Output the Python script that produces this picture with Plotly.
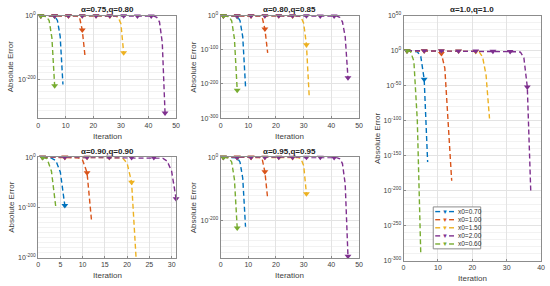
import plotly.graph_objects as go

W, H = 550, 286

# series labels and colours (MATLAB default order)
labels = ["x0=0.70", "x0=1.00", "x0=1.50", "x0=2.00", "x0=0.60"]
colors = ["#0072BD", "#D95319", "#EDB120", "#7E2F8E", "#77AC30"]

titles = ["α=0.75,q=0.80", "α=0.80,q=0.85", "α=0.90,q=0.90",
          "α=0.95,q=0.95", "α=1.0,q=1.0"]

# absolute error per iteration (iteration 1, 2, ...)
# panel 1: alpha=0.75, q=0.80
p1_070 = [0.9, 0.75, 0.55, 0.35, 0.12, 1e-2, 1e-15, 1e-65, 1e-217]
p1_100 = [0.95, 0.9, 0.85, 0.8, 0.74, 0.68, 0.62, 0.55, 0.48, 0.41, 0.33, 0.25,
          0.16, 0.07, 1e-5, 1e-45, 1e-127]
p1_150 = [0.97, 0.94, 0.91, 0.88, 0.85, 0.82, 0.79, 0.76, 0.73, 0.7, 0.67, 0.64,
          0.61, 0.58, 0.55, 0.52, 0.49, 0.46, 0.43, 0.4, 0.37, 0.34, 0.31, 0.27,
          0.23, 0.18, 0.12, 0.05, 1e-5, 1e-25, 1e-117]
p1_200 = [0.98, 0.95, 0.93, 0.9, 0.88, 0.86, 0.83, 0.81, 0.79, 0.77, 0.75, 0.73,
          0.71, 0.69, 0.67, 0.65, 0.63, 0.61, 0.6, 0.58, 0.56, 0.54, 0.52, 0.5,
          0.48, 0.46, 0.44, 0.42, 0.4, 0.38, 0.36, 0.34, 0.32, 0.3, 0.28, 0.26,
          0.24, 0.21, 0.18, 0.15, 0.11, 0.06, 1e-5, 1e-20, 1e-85, 1e-307]
p1_060 = [0.5, 0.1, 1e-3, 1e-15, 1e-70, 1e-221]

# panel 2: alpha=0.80, q=0.85
p2_070 = [0.9, 0.75, 0.55, 0.35, 0.12, 1e-2, 1e-14, 1e-62, 1e-207]
p2_100 = [0.95, 0.9, 0.85, 0.8, 0.74, 0.68, 0.62, 0.55, 0.48, 0.41, 0.33, 0.25,
          0.16, 0.07, 1e-4, 1e-39, 1e-109]
p2_150 = [0.97, 0.94, 0.91, 0.88, 0.85, 0.82, 0.79, 0.76, 0.73, 0.7, 0.67, 0.64,
          0.61, 0.58, 0.55, 0.52, 0.49, 0.46, 0.43, 0.4, 0.37, 0.34, 0.31, 0.27,
          0.23, 0.18, 0.12, 0.05, 1e-3, 1e-22, 1e-85, 1e-237]
p2_200 = [0.98, 0.95, 0.93, 0.9, 0.88, 0.86, 0.83, 0.81, 0.79, 0.77, 0.75, 0.73,
          0.71, 0.69, 0.67, 0.65, 0.63, 0.61, 0.6, 0.58, 0.56, 0.54, 0.52, 0.5,
          0.48, 0.46, 0.44, 0.42, 0.4, 0.38, 0.36, 0.34, 0.32, 0.3, 0.28, 0.26,
          0.24, 0.21, 0.18, 0.15, 0.11, 0.06, 1e-5, 1e-18, 1e-62, 1e-182]
p2_060 = [0.5, 0.1, 1e-3, 1e-15, 1e-68, 1e-218]

# panel 3: alpha=0.90, q=0.90
p3_070 = [0.7, 0.3, 1e-2, 1e-7, 1e-30, 1e-96]
p3_100 = [0.95, 0.88, 0.8, 0.7, 0.6, 0.48, 0.35, 0.2, 0.05, 1e-6, 1e-31, 1e-126]
p3_150 = [0.96, 0.92, 0.88, 0.84, 0.8, 0.76, 0.72, 0.68, 0.63, 0.58, 0.53, 0.48,
          0.42, 0.36, 0.29, 0.22, 0.14, 0.06, 1e-2, 1e-12, 1e-50, 1e-199]
p3_200 = [0.98, 0.95, 0.92, 0.89, 0.86, 0.83, 0.8, 0.77, 0.74, 0.71, 0.68, 0.65,
          0.62, 0.59, 0.56, 0.53, 0.5, 0.47, 0.44, 0.41, 0.37, 0.33, 0.29, 0.24,
          0.19, 0.13, 0.07, 1e-2, 1e-8, 1e-28, 1e-83]
p3_060 = [0.3, 1e-3, 1e-28, 1e-101]

# panel 4: alpha=0.95, q=0.95
p4_070 = [0.9, 0.75, 0.55, 0.35, 0.12, 1e-2, 1e-15, 1e-66, 1e-218]
p4_100 = [0.95, 0.9, 0.85, 0.8, 0.74, 0.68, 0.62, 0.55, 0.48, 0.41, 0.33, 0.25,
          0.16, 0.07, 1e-5, 1e-46, 1e-130]
p4_150 = [0.97, 0.94, 0.91, 0.88, 0.85, 0.82, 0.79, 0.76, 0.73, 0.7, 0.67, 0.64,
          0.61, 0.58, 0.55, 0.52, 0.49, 0.46, 0.43, 0.4, 0.37, 0.34, 0.31, 0.27,
          0.23, 0.18, 0.12, 0.05, 1e-5, 1e-26, 1e-115]
p4_200 = [0.98, 0.95, 0.93, 0.9, 0.88, 0.86, 0.83, 0.81, 0.79, 0.77, 0.75, 0.73,
          0.71, 0.69, 0.67, 0.65, 0.63, 0.61, 0.6, 0.58, 0.56, 0.54, 0.52, 0.5,
          0.48, 0.46, 0.44, 0.42, 0.4, 0.38, 0.36, 0.34, 0.32, 0.3, 0.28, 0.26,
          0.24, 0.21, 0.18, 0.15, 0.11, 0.06, 1e-5, 1e-20, 1e-85, 1e-311]
p4_060 = [0.5, 0.1, 1e-3, 1e-15, 1e-70, 1e-222]

# panel 5: alpha=1.0, q=1.0
p5_070 = [0.9, 0.6, 0.3, 3e-2, 1e-8, 1e-41, 1e-159]
p5_100 = [0.95, 0.9, 0.85, 0.78, 0.7, 0.6, 0.5, 0.38, 0.25, 0.1, 1e-4, 1e-25,
          1e-105, 1e-186]
p5_150 = [0.97, 0.93, 0.89, 0.85, 0.81, 0.77, 0.73, 0.69, 0.65, 0.61, 0.57, 0.53,
          0.49, 0.45, 0.41, 0.37, 0.32, 0.27, 0.21, 0.15, 0.08, 0.02, 1e-9, 1e-35,
          1e-97]
p5_200 = [0.98, 0.95, 0.92, 0.89, 0.86, 0.83, 0.8, 0.77, 0.74, 0.71, 0.68, 0.65,
          0.62, 0.59, 0.56, 0.53, 0.5, 0.47, 0.44, 0.41, 0.38, 0.35, 0.32, 0.29,
          0.26, 0.23, 0.2, 0.17, 0.14, 0.11, 0.08, 0.05, 0.03, 1e-2, 1e-10, 1e-52,
          1e-200]
p5_060 = [0.9, 0.1, 1e-15, 1e-100, 1e-290]

panel_data = [
    [p1_070, p1_100, p1_150, p1_200, p1_060],
    [p2_070, p2_100, p2_150, p2_200, p2_060],
    [p3_070, p3_100, p3_150, p3_200, p3_060],
    [p4_070, p4_100, p4_150, p4_200, p4_060],
    [p5_070, p5_100, p5_150, p5_200, p5_060],
]

# panel geometry in pixels: left, right, top, bottom
boxes = [(36.5, 176, 12, 117), (221, 361, 12, 117), (36.5, 176, 157, 260),
         (221, 361, 157, 260), (406, 545, 12, 263)]
x_ranges = [[0, 50], [0, 50], [0, 31], [0, 50], [0, 40]]
x_dticks = [10, 10, 5, 10, 10]
y_ranges = [[-323, 0], [-300, 0], [-200, 0], [-315, 0], [-300, 50]]
y_major = [[0, -200], [0, -100, -200, -300], [0, -100, -200], [0, -200],
           [50, 0, -50, -100, -150, -200, -250, -300]]
y_minor_step = [20, 20, 10, 20, 10]

FONT = "Liberation Sans, Arial, sans-serif"
fig = go.Figure()


def note(text, x, y, size, color, **kw):
    # text placed in figure pixels
    opts = dict(xanchor="center", yanchor="middle")
    opts.update(kw)
    fig.add_annotation(text=text, x=x / W, y=1 - y / H, xref="paper", yref="paper",
                       showarrow=False, font=dict(family=FONT, size=size, color=color),
                       **opts)


for p in range(5):
    ax = "" if p == 0 else str(p + 1)
    left, right, top, bottom = boxes[p]
    for s in range(5):
        err = panel_data[p][s]
        it = list(range(1, len(err) + 1))
        fig.add_trace(go.Scatter(
            x=it, y=err, mode="lines", xaxis="x" + ax, yaxis="y" + ax,
            line=dict(color=colors[s], width=1.4, dash="5px,3px"),
            showlegend=False, hoverinfo="skip"))
        fig.add_trace(go.Scatter(
            x=it[::5], y=err[::5], mode="markers", xaxis="x" + ax, yaxis="y" + ax,
            marker=dict(symbol="triangle-down", size=6, color=colors[s]),
            cliponaxis=False, showlegend=False, name=labels[s]))

    lo, hi = y_ranges[p]
    minor_vals = [10.0 ** k for k in range(hi, lo - 1, -y_minor_step[p])]
    fig.layout["xaxis" + ax] = dict(
        domain=[left / W, right / W], anchor="y" + ax, range=x_ranges[p],
        dtick=x_dticks[p], tick0=0, showgrid=True, gridcolor="#e3e3e3",
        zeroline=False, showline=True, linecolor="#8c8c8c", linewidth=1,
        mirror=True, ticks="inside", ticklen=2, tickcolor="#8c8c8c",
        tickfont=dict(family=FONT, size=7, color="#404040"))
    fig.layout["yaxis" + ax] = dict(
        domain=[1 - bottom / H, 1 - top / H], anchor="x" + ax, type="log",
        range=[lo, hi], tickmode="array",
        tickvals=[10.0 ** k for k in y_major[p]],
        ticktext=["10<sup>%d</sup>" % k for k in y_major[p]],
        showgrid=True, gridcolor="#e3e3e3", zeroline=False,
        showline=True, linecolor="#8c8c8c", linewidth=1, mirror=True,
        ticks="inside", ticklen=2, tickcolor="#8c8c8c",
        tickfont=dict(family=FONT, size=7, color="#404040"),
        minor=dict(tickvals=minor_vals, showgrid=True, gridcolor="#f2f2f2",
                   ticks=""))

    # panel title and axis titles
    cx = (left + right) / 2
    note("<b>%s</b>" % titles[p], cx, top - 6, 8, "#222")
    note("Iteration", cx, bottom + 18.5, 8, "#404040")
    note("Absolute Error", left - 27, (top + bottom) / 2, 8, "#404040",
         textangle=-90)

# legend box inside the last panel (drawn by hand to keep MATLAB's compact look)
lx0, lx1, ly0, ly1 = 436, 484, 208, 251
fig.add_shape(type="rect", xref="paper", yref="paper",
              x0=lx0 / W, x1=lx1 / W, y0=1 - ly1 / H, y1=1 - ly0 / H,
              line=dict(color="#8c8c8c", width=1), fillcolor="white", layer="above")
for s in range(5):
    yy = 212.8 + 8.3 * s
    for a, b in [(438, 443), (452, 457)]:
        fig.add_shape(type="line", xref="paper", yref="paper",
                      x0=a / W, x1=b / W, y0=1 - yy / H, y1=1 - yy / H,
                      layer="above", line=dict(color=colors[s], width=1.4))
    note("▼", 447.5, yy, 6, colors[s])
    note(labels[s], 459, yy, 6.5, "#303030", xanchor="left")

fig.update_layout(width=W, height=H, margin=dict(l=0, r=0, t=0, b=0),
                  paper_bgcolor="white", plot_bgcolor="white", showlegend=False)

# the page body has a default 8px margin; remove it so the figure fills the window
fig.write_html("out.html", config={"displayModeBar": False},
               post_script="document.body.style.margin='0px';")
